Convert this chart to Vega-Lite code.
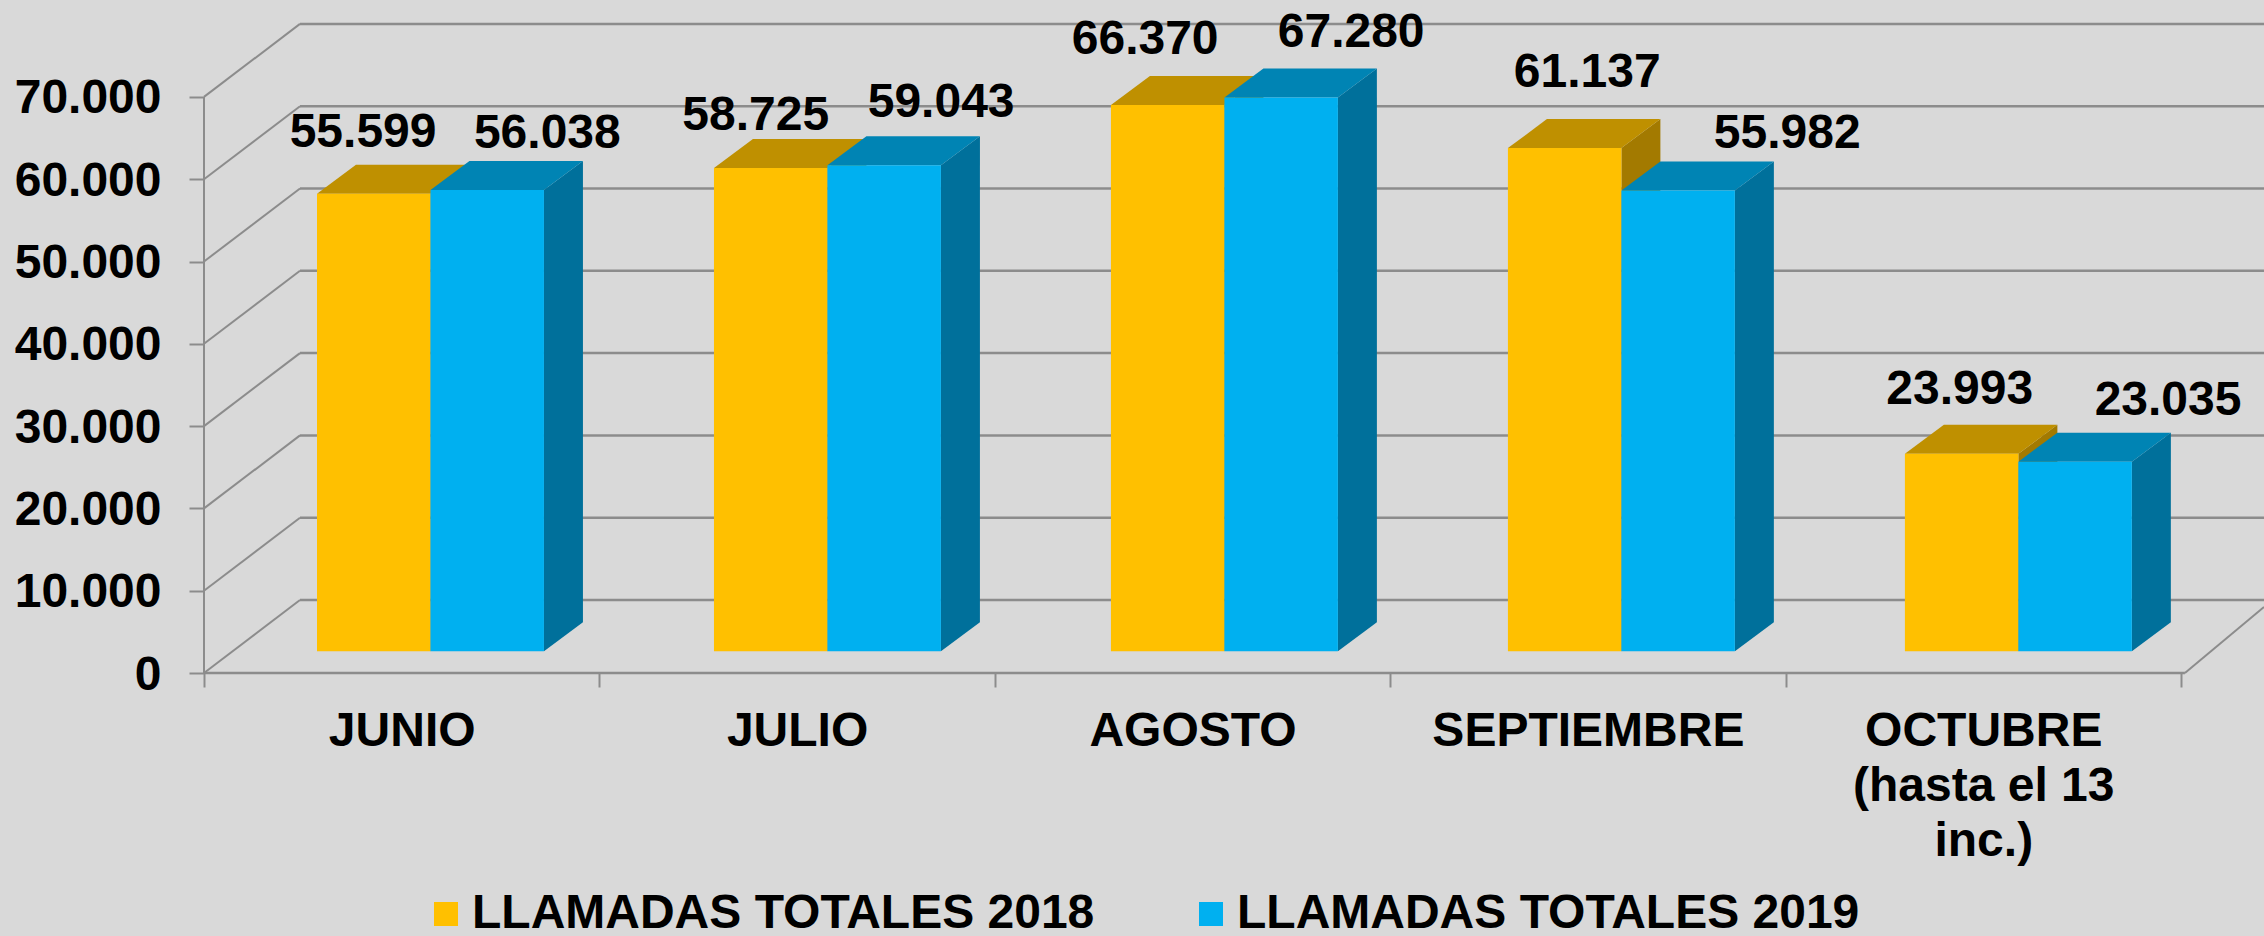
{
"$schema":"https://vega.github.io/schema/vega-lite/v6.json",
"width":2060,"height":650,
"autosize":{"type":"none"},
"padding":{"left":204,"top":23,"right":0,"bottom":263},
"background":"#D9D9D9",
"config":{"view":{"stroke":null},"font":"Liberation Sans"},
"resolve":{"axis":{"x":"independent","y":"independent"}},
"data":{"values":[
{"mes":"JUNIO","serie":"LLAMADAS TOTALES 2018","valor":55599},
{"mes":"JUNIO","serie":"LLAMADAS TOTALES 2019","valor":56038},
{"mes":"JULIO","serie":"LLAMADAS TOTALES 2018","valor":58725},
{"mes":"JULIO","serie":"LLAMADAS TOTALES 2019","valor":59043},
{"mes":"AGOSTO","serie":"LLAMADAS TOTALES 2018","valor":66370},
{"mes":"AGOSTO","serie":"LLAMADAS TOTALES 2019","valor":67280},
{"mes":"SEPTIEMBRE","serie":"LLAMADAS TOTALES 2018","valor":61137},
{"mes":"SEPTIEMBRE","serie":"LLAMADAS TOTALES 2019","valor":55982},
{"mes":"OCTUBRE","serie":"LLAMADAS TOTALES 2018","valor":23993},
{"mes":"OCTUBRE","serie":"LLAMADAS TOTALES 2019","valor":23035}
]},
"transform":[
{"calculate":"indexof(['JUNIO','JULIO','AGOSTO','SEPTIEMBRE','OCTUBRE'],datum.mes)","as":"m"},
{"calculate":"datum.serie=='LLAMADAS TOTALES 2018'?0:1","as":"s"},
{"calculate":"datum.mes+datum.serie","as":"key"},
{"calculate":"0.2858+datum.m*1.004+datum.s*0.287","as":"x0"},
{"calculate":"datum.x0+0.287","as":"x1"},
{"calculate":"datum.valor+2640","as":"top"},
{"calculate":"2640","as":"base"}
],
"layer":[
{"data":{"values":[{"t":0},{"t":10000},{"t":20000},{"t":30000},{"t":40000},{"t":50000},{"t":60000},{"t":70000}]},
 "transform":[{"calculate":"datum.t+8870","as":"b"}],
 "mark":{"type":"rule","color":"#8C8C8C","strokeWidth":2.5},
 "encoding":{
  "x":{"datum":0.2428,"type":"quantitative","scale":{"domain":[0,5.21],"nice":false,"zero":false},
   "axis":{"title":null,"orient":"bottom","grid":false,"domain":false,"values":[0,0.5,1,1.5,2,2.5,3,3.5,4,4.5,5],
    "tickColor":"#8C8C8C","tickWidth":2,"tickSize":14,
    "tickOpacity":{"condition":{"test":"datum.value%1==0","value":1},"value":0},
    "labelExpr":"datum.value==0.5?'JUNIO':datum.value==1.5?'JULIO':datum.value==2.5?'AGOSTO':datum.value==3.5?'SEPTIEMBRE':datum.value==4.5?['OCTUBRE','(hasta el 13','inc.)']:''",
    "labelFont":"Liberation Sans","labelFontWeight":"bold","labelFontSize":48,"labelColor":"#000000","labelLimit":800,
    "labelPadding":20,"labelLineHeight":55,"labelOverlap":false,"labelBound":false,"labelFlush":false,"labelAlign":"center","labelBaseline":"top"}},
  "x2":{"datum":5.21},
  "y":{"field":"b","type":"quantitative","scale":{"domain":[0,78980],"nice":false,"zero":false},
   "axis":{"title":null,"orient":"left","grid":false,"domain":false,"values":[0,10000,20000,30000,40000,50000,60000,70000],
    "tickColor":"#8C8C8C","tickWidth":2,"tickSize":15,
    "labelExpr":"replace(format(datum.value,','),',','.')",
    "labelFont":"Liberation Sans","labelFontWeight":"bold","labelFontSize":48,"labelColor":"#000000","labelLimit":400,"labelOffset":2,
    "labelPadding":28,"labelOverlap":false,"labelBound":false,"labelFlush":false,"labelBaseline":"middle"}}
 }},
{"data":{"values":[{"t":0},{"t":10000},{"t":20000},{"t":30000},{"t":40000},{"t":50000},{"t":60000},{"t":70000}]},
 "transform":[{"calculate":"datum.t+8870","as":"b"}],
 "mark":{"type":"rule","color":"#8C8C8C","strokeWidth":2},
 "encoding":{
  "x":{"datum":0,"type":"quantitative","scale":{"domain":[0,5.21],"nice":false,"zero":false},"axis":null},
  "x2":{"datum":0.2428},
  "y":{"field":"t","type":"quantitative","scale":{"domain":[0,78980],"nice":false,"zero":false},"axis":null},
  "y2":{"field":"b"}
 }},
{"data":{"values":[{"t":0}]},
 "mark":{"type":"rule","color":"#8C8C8C","strokeWidth":2},
 "encoding":{
  "x":{"datum":0,"type":"quantitative","scale":{"domain":[0,5.21],"nice":false,"zero":false},"axis":null},
  "y":{"datum":0,"type":"quantitative","scale":{"domain":[0,78980],"nice":false,"zero":false},"axis":null},
  "y2":{"datum":70000}
 }},
{"data":{"values":[{"t":0}]},
 "mark":{"type":"rule","color":"#8C8C8C","strokeWidth":2.5},
 "encoding":{
  "x":{"datum":0,"type":"quantitative","scale":{"domain":[0,5.21],"nice":false,"zero":false},"axis":null},
  "x2":{"datum":5.01},
  "y":{"datum":0,"type":"quantitative","scale":{"domain":[0,78980],"nice":false,"zero":false},"axis":null}
 }},
{"data":{"values":[{"t":0}]},
 "mark":{"type":"rule","color":"#8C8C8C","strokeWidth":2},
 "encoding":{
  "x":{"datum":5.01,"type":"quantitative","scale":{"domain":[0,5.21],"nice":false,"zero":false},"axis":null},
  "x2":{"datum":5.21},
  "y":{"datum":0,"type":"quantitative","scale":{"domain":[0,78980],"nice":false,"zero":false},"axis":null},
  "y2":{"datum":8020}
 }},
{"transform":[{"calculate":"[0,1]","as":"depth"},{"flatten":["depth"]},
  {"calculate":"datum.x1+datum.depth*0.0986","as":"sx"},
  {"calculate":"datum.top+datum.depth*3524","as":"sy"},
  {"calculate":"datum.base+datum.depth*3524","as":"sy2"}],
 "mark":{"type":"area","orient":"vertical","line":false},
 "encoding":{
  "x":{"field":"sx","type":"quantitative","scale":{"domain":[0,5.21],"nice":false,"zero":false},"axis":null},
  "y":{"field":"sy","type":"quantitative","stack":null,"scale":{"domain":[0,78980],"nice":false,"zero":false},"axis":null},
  "y2":{"field":"sy2"},
  "detail":{"field":"key"},
  "fill":{"condition":{"test":"datum.s==0","value":"#A37A00"},"value":"#00709B"}
 }},
{"transform":[{"calculate":"[0,1]","as":"depth"},{"flatten":["depth"]},
  {"calculate":"datum.x0+datum.depth*0.0986","as":"tx"},
  {"calculate":"datum.x1+datum.depth*0.0986","as":"tx2"},
  {"calculate":"datum.top+datum.depth*3524","as":"ty"}],
 "mark":{"type":"area","orient":"horizontal","line":false},
 "encoding":{
  "y":{"field":"ty","type":"quantitative","stack":null,"scale":{"domain":[0,78980],"nice":false,"zero":false},"axis":null},
  "x":{"field":"tx","type":"quantitative","stack":null,"scale":{"domain":[0,5.21],"nice":false,"zero":false},"axis":null},
  "x2":{"field":"tx2"},
  "detail":{"field":"key"},
  "fill":{"condition":{"test":"datum.s==0","value":"#BF9000"},"value":"#0084B4"}
 }},
{"mark":{"type":"rect"},
 "encoding":{
  "x":{"field":"x0","type":"quantitative","scale":{"domain":[0,5.21],"nice":false,"zero":false},"axis":null},
  "x2":{"field":"x1"},
  "y":{"field":"top","type":"quantitative","scale":{"domain":[0,78980],"nice":false,"zero":false},"axis":null},
  "y2":{"field":"base"},
  "color":{"field":"serie","type":"nominal","scale":{"domain":["LLAMADAS TOTALES 2018","LLAMADAS TOTALES 2019"],"range":["#FFC000","#00B0F0"]},
   "legend":{"title":null,"orient":"none","legendX":218,"legendY":867,"direction":"horizontal","columns":2,"symbolType":"square","symbolSize":576,"symbolStrokeWidth":0,"symbolOpacity":1,
    "labelFont":"Liberation Sans","labelFontWeight":"bold","labelFontSize":48,"labelColor":"#000000","labelOffset":2,"labelLimit":900,"columnPadding":92}}
 }},
{"transform":[
  {"calculate":"datum.valor+2640+[[7370,6845],[6320,7545],[7900,7900],[9125,6845],[7720,7370]][datum.m][datum.s]","as":"ly"},
  {"calculate":"(datum.x0+datum.x1)/2+[[-0.027,0.152],[-0.038,0.144],[-0.057,0.177],[0.057,0.276],[-0.005,0.235]][datum.m][datum.s]","as":"lx"},
  {"calculate":"replace(format(datum.valor,','),',','.')","as":"etiqueta"}],
 "mark":{"type":"text","font":"Liberation Sans","fontWeight":"bold","fontSize":48,"color":"#000000","align":"center","baseline":"middle"},
 "encoding":{
  "x":{"field":"lx","type":"quantitative","scale":{"domain":[0,5.21],"nice":false,"zero":false},"axis":null},
  "y":{"field":"ly","type":"quantitative","scale":{"domain":[0,78980],"nice":false,"zero":false},"axis":null},
  "text":{"field":"etiqueta"}
 }}
]
}
